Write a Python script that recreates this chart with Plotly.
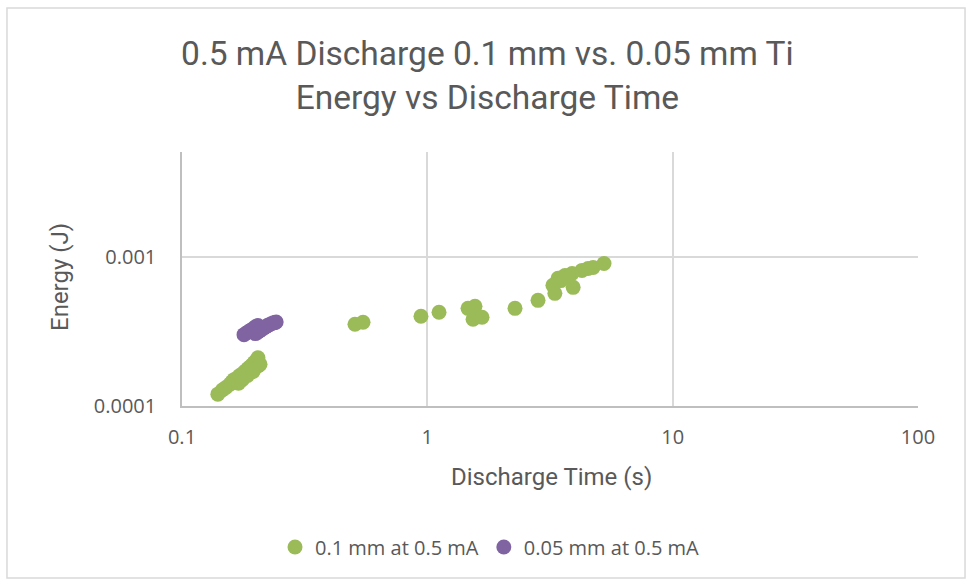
import plotly.graph_objects as go
import math

# 0.1 mm at 0.5 mA
t_01 = [0.140, 0.146, 0.151, 0.157, 0.160, 0.163, 0.166, 0.169, 0.172, 0.176,
        0.179, 0.182, 0.186, 0.189, 0.193, 0.197, 0.200, 0.204, 0.204, 0.208,
        0.176, 0.185, 0.195, 0.170,
        0.507, 0.547, 0.942, 1.116, 1.465, 1.564, 1.536, 1.671, 2.277, 2.826,
        3.25, 3.31, 3.41, 3.64, 3.89, 3.93, 4.27, 4.52, 4.74, 5.25, 3.50, 3.75]
e_01 = [0.000120, 0.000128, 0.000133, 0.000140, 0.000145, 0.000150, 0.000148, 0.000155, 0.000160, 0.000163,
        0.000168, 0.000172, 0.000178, 0.000182, 0.000188, 0.000195, 0.000200, 0.000210, 0.000185, 0.000190,
        0.000150, 0.000160, 0.000170, 0.000142,
        0.000352, 0.000363, 0.000398, 0.000424, 0.000450, 0.000464, 0.000380, 0.000392, 0.000450, 0.000509,
        0.000641, 0.000567, 0.000714, 0.000747, 0.000770, 0.000622, 0.000807, 0.000832, 0.000845, 0.000898,
        0.000690, 0.000720]

# 0.05 mm at 0.5 mA
t_005 = [0.179, 0.183, 0.187, 0.190, 0.193, 0.197, 0.200, 0.204, 0.199, 0.203,
         0.207, 0.211, 0.215, 0.219, 0.223, 0.227, 0.231, 0.236, 0.240, 0.242]
e_005 = [0.000300, 0.000308, 0.000315, 0.000320, 0.000325, 0.000332, 0.000340, 0.000345, 0.000305, 0.000310,
         0.000318, 0.000325, 0.000332, 0.000338, 0.000345, 0.000350, 0.000355, 0.000360, 0.000362, 0.000365]

x_ticks = [0.1, 1, 10, 100]
x_labels = ["0.1", "1", "10", "100"]
y_ticks = [0.0001, 0.001]
y_labels = ["0.0001", "0.001"]

GREEN = "#9BBB59"
PURPLE = "#8064A2"
TXT = "#595959"
TITLE_FONT = "Roboto, sans-serif"
BODY_FONT = "Open Sans, sans-serif"

fig = go.Figure()
fig.add_trace(go.Scatter(x=t_01, y=e_01, mode="markers", name="0.1 mm at 0.5 mA",
                         marker=dict(color=GREEN, size=15, line=dict(width=0))))
fig.add_trace(go.Scatter(x=t_005, y=e_005, mode="markers", name="0.05 mm at 0.5 mA",
                         marker=dict(color=PURPLE, size=15, line=dict(width=0))))

fig.update_layout(
    width=967, height=582,
    margin=dict(l=182, r=49, t=152, b=176),
    paper_bgcolor="white", plot_bgcolor="white",
    title=dict(text="0.5 mA Discharge 0.1 mm vs. 0.05 mm Ti<br>Energy vs Discharge Time",
               x=0.504, xanchor="center", y=1 - 65 / 582, yanchor="middle",
               font=dict(family=TITLE_FONT, size=33.5, color=TXT)),
    xaxis=dict(type="log", range=[-1, 2], tickvals=x_ticks, ticktext=x_labels,
               showgrid=True, gridcolor="#D9D9D9", gridwidth=1.5,
               showline=True, linecolor="#BFBFBF", linewidth=1.5, zeroline=False,
               ticks="", ticklabelstandoff=12, tickfont=dict(family=BODY_FONT, size=20, color=TXT)),
    yaxis=dict(type="log", range=[-4, math.log10(0.005)], tickvals=y_ticks, ticktext=y_labels,
               showgrid=True, gridcolor="#D9D9D9", gridwidth=1.5,
               showline=True, linecolor="#BFBFBF", linewidth=1.5, zeroline=False,
               ticks="", ticklabelstandoff=20, tickfont=dict(family=BODY_FONT, size=20, color=TXT)),
    legend=dict(orientation="h", x=0.4185, xanchor="center", y=-0.555, yanchor="middle",
                font=dict(family=BODY_FONT, size=20, color=TXT), itemwidth=30),
    showlegend=True,
)

fig.add_annotation(text="Discharge Time (s)", xref="paper", yref="paper",
                   x=(551 - 182) / 736, y=(406 - 477) / 254, showarrow=False,
                   xanchor="center", yanchor="middle",
                   font=dict(family=TITLE_FONT, size=24, color=TXT))
fig.add_annotation(text="Energy (J)", xref="paper", yref="paper",
                   x=(60 - 182) / 736, y=(406 - 277) / 254, showarrow=False, textangle=-90,
                   xanchor="center", yanchor="middle",
                   font=dict(family=TITLE_FONT, size=24, color=TXT))

fig.add_shape(type="rect", xref="paper", yref="paper",
              x0=-0.2378, x1=1.0639, y0=-0.677, y1=1.567,
              line=dict(color="#D9D9D9", width=1.5), fillcolor="rgba(0,0,0,0)", layer="below")

fig.write_html("out.html")
